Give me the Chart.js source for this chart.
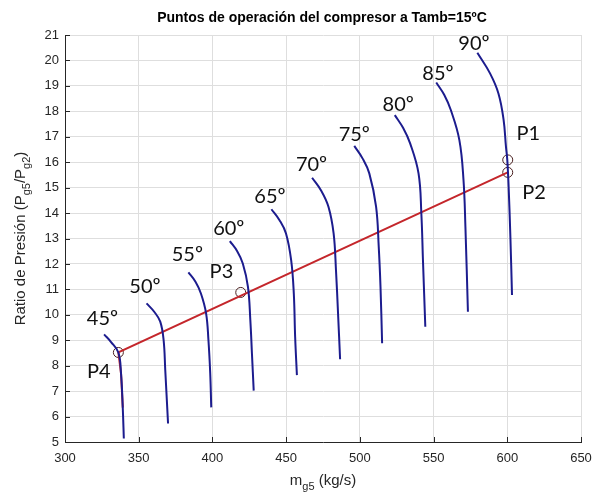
<!DOCTYPE html>
<html>
<head>
<meta charset="utf-8">
<script src="https://cdn.jsdelivr.net/npm/chart.js@4/dist/chart.umd.min.js"></script>
<style>
  html, body { margin: 0; padding: 0; background: #fff; }
  #wrap { width: 593px; height: 495px; }
</style>
</head>
<body>
<div id="wrap"><canvas id="compChart" width="593" height="495"></canvas></div>
<script>
// curvas por angulo (m_g5 kg/s, ratio de presion)
const curve45 = [[326.5, 9.23], [331.1, 8.94], [336.2, 8.52], [338.0, 7.7], [339.2, 6.32], [339.9, 5.14]];
const curve50 = [[355.3, 10.45], [360.5, 10.12], [364.6, 9.73], [366.9, 9.0], [368.0, 7.83], [369.9, 5.73]];
const curve55 = [[383.7, 11.67], [388.5, 11.3], [392.2, 10.84], [395.7, 10.06], [397.3, 9.0], [398.5, 7.7], [399.2, 6.36]];
const curve60 = [[411.8, 12.9], [416.8, 12.5], [420.6, 12.02], [424.1, 11.1], [425.7, 9.8], [426.8, 8.48], [428.0, 7.02]];
const curve65 = [[440.0, 14.15], [445.5, 13.72], [449.9, 13.2], [453.4, 12.15], [455.2, 10.84], [456.1, 9.14], [457.3, 7.63]];
const curve70 = [[467.6, 15.39], [473.8, 14.88], [478.7, 14.25], [482.2, 13.2], [483.8, 11.76], [485.2, 10.06], [486.6, 8.25]];
const curve75 = [[496.2, 16.64], [501.8, 16.15], [506.4, 15.56], [511.0, 14.25], [512.8, 12.68], [514.0, 11.1], [515.1, 8.88]];
const curve80 = [[523.7, 17.85], [529.3, 17.35], [534.1, 16.74], [539.8, 15.56], [541.7, 13.99], [542.8, 12.15], [544.4, 9.53]];
const curve85 = [[551.8, 19.13], [557.2, 18.65], [561.7, 18.05], [567.5, 16.87], [570.3, 15.3], [571.6, 13.46], [573.3, 10.12]];
const curve90 = [[579.7, 20.3], [588.3, 19.49], [594.0, 18.7], [597.5, 17.66], [599.1, 16.61], [600.0, 16.09], [600.9, 15.04], [602.1, 13.07], [603.2, 10.78]];

const curves = [curve45, curve50, curve55, curve60, curve65, curve70, curve75, curve80, curve85, curve90];
const angleLabels = ["45º", "50º", "55º", "60º", "65º", "70º", "75º", "80º", "85º", "90º"];
const angleLabelPos = [[325.4, 9.86], [354.2, 11.1], [383.0, 12.35], [411.1, 13.4], [439.0, 14.64],
  [467.2, 15.89], [496.2, 17.07], [526.0, 18.25], [553.0, 19.47], [577.4, 20.67]];

// linea de operacion (roja)
const operLine = [[339.2, 6.35], [338.0, 7.7], [336.2, 8.52], [600.3, 15.6]];

// puntos P1..P4
const pointNames = ["P1", "P2", "P3", "P4"];
const pointX = [600.3, 600.3, 419.2, 336.2];
const pointY = [16.09, 15.6, 10.88, 8.52];
const pointLabelPos = [[614.3, 17.13], [618.2, 14.81], [406.1, 11.69], [323.0, 7.76]];

const xTicks = [300, 350, 400, 450, 500, 550, 600, 650];
const yTicks = [5, 6, 7, 8, 9, 10, 11, 12, 13, 14, 15, 16, 17, 18, 19, 20, 21];

const toXY = (arr) => arr.map(([x, y]) => ({ x, y }));

const datasets = curves.map((c, i) => ({
  label: angleLabels[i],
  data: toXY(c),
  showLine: true,
  borderColor: "#1c1c8e",
  borderWidth: 2,
  pointRadius: 0,
  tension: 0.4,
}));

datasets.push({
  label: "operacion",
  data: toXY(operLine),
  showLine: true,
  borderColor: "#c4262b",
  borderWidth: 2,
  pointRadius: 0,
  tension: 0,
});

datasets.push({
  label: "puntos",
  data: pointX.map((x, i) => ({ x, y: pointY[i] })),
  showLine: false,
  pointRadius: 5,
  pointStyle: "circle",
  pointBorderColor: "#4a2020",
  pointBackgroundColor: "rgba(0,0,0,0)",
  pointBorderWidth: 1,
});

// textos sobre el grafico, titulo y ejes con subindices
const annotate = {
  id: "annotate",
  afterDatasetsDraw(chart) {
    const { ctx, scales, chartArea } = chart;
    const xs = scales.x, ys = scales.y;
    ctx.save();
    ctx.fillStyle = "#111";
    ctx.font = '20px "Lato", "Open Sans", sans-serif';
    ctx.textAlign = "center";
    ctx.textBaseline = "middle";
    angleLabels.forEach((t, i) => {
      ctx.fillText(t, xs.getPixelForValue(angleLabelPos[i][0]), ys.getPixelForValue(angleLabelPos[i][1]));
    });
    pointNames.forEach((t, i) => {
      ctx.fillText(t, xs.getPixelForValue(pointLabelPos[i][0]), ys.getPixelForValue(pointLabelPos[i][1]));
    });

    // ticks hacia dentro
    ctx.strokeStyle = "#262626";
    ctx.lineWidth = 1;
    ctx.beginPath();
    yTicks.forEach((v) => {
      const py = Math.round(ys.getPixelForValue(v)) + 0.5;
      ctx.moveTo(chartArea.left, py);
      ctx.lineTo(chartArea.left + 5, py);
    });
    xTicks.forEach((v) => {
      const px = Math.round(xs.getPixelForValue(v)) + 0.5;
      ctx.moveTo(px, chartArea.bottom);
      ctx.lineTo(px, chartArea.bottom - 5);
    });
    ctx.stroke();

    // titulo
    ctx.fillStyle = "#000";
    ctx.font = 'bold 14px "Liberation Sans", Arial, sans-serif';
    ctx.fillText("Puntos de operación del compresor a Tamb=15ºC", 322, 18);

    // titulo eje x: m_g5 (kg/s)
    ctx.fillStyle = "#262626";
    ctx.textAlign = "left";
    ctx.textBaseline = "alphabetic";
    const big = '15px "Liberation Sans", Arial, sans-serif';
    const small = '11px "Liberation Sans", Arial, sans-serif';
    const partsX = [["m", big, 0], ["g5", small, 5], [" (kg/s)", big, 0]];
    let w = 0;
    partsX.forEach(([t, f]) => { ctx.font = f; w += ctx.measureText(t).width; });
    let cx = (chartArea.left + chartArea.right) / 2 - w / 2;
    partsX.forEach(([t, f, dy]) => {
      ctx.font = f;
      ctx.fillText(t, cx, 485 + dy);
      cx += ctx.measureText(t).width;
    });

    // titulo eje y: Ratio de Presión (P_g5/P_g2)
    ctx.save();
    ctx.translate(25, (chartArea.top + chartArea.bottom) / 2);
    ctx.rotate(-Math.PI / 2);
    const partsY = [["Ratio de Presión (P", big, 0], ["g5", small, 5], ["/P", big, 0], ["g2", small, 5], [")", big, 0]];
    w = 0;
    partsY.forEach(([t, f]) => { ctx.font = f; w += ctx.measureText(t).width; });
    let cy = -w / 2;
    partsY.forEach(([t, f, dy]) => {
      ctx.font = f;
      ctx.fillText(t, cy, 0 + dy);
      cy += ctx.measureText(t).width;
    });
    ctx.restore();
    ctx.restore();
  },
};

new Chart(document.getElementById("compChart").getContext("2d"), {
  type: "scatter",
  data: { datasets },
  options: {
    responsive: false,
    animation: false,
    layout: { padding: { left: 0, right: 12, top: 35, bottom: 0 } },
    plugins: {
      legend: { display: false },
      tooltip: { enabled: false },
    },
    scales: {
      x: {
        type: "linear",
        min: 300,
        max: 650,
        afterBuildTicks: (s) => { s.ticks = xTicks.map((v) => ({ value: v })); },
        afterFit: (s) => { s.height = 53; s.paddingRight = 0; s.paddingLeft = 0; },
        grid: { color: "#dedede", drawTicks: false },
        border: { color: "#262626" },
        ticks: {
          padding: 9,
          color: "#262626",
          font: { family: '"Liberation Sans", Arial, sans-serif', size: 13 },
        },
      },
      y: {
        type: "linear",
        min: 5,
        max: 21,
        afterBuildTicks: (s) => { s.ticks = yTicks.map((v) => ({ value: v })); },
        afterFit: (s) => { s.width = 65; },
        grid: { color: "#dedede", drawTicks: false },
        border: { color: "#262626" },
        ticks: {
          padding: 6,
          color: "#262626",
          font: { family: '"Liberation Sans", Arial, sans-serif', size: 13 },
        },
      },
    },
  },
  plugins: [annotate],
});
</script>
</body>
</html>
